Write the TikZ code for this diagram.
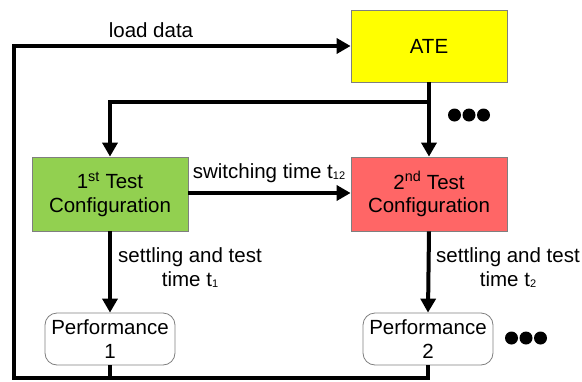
\documentclass[tikz,border=0pt]{standalone}
\usepackage{fontspec}
\setmainfont{Liberation Sans}
\usetikzlibrary{arrows.meta}
\definecolor{ateyellow}{HTML}{FFFF00}
\definecolor{cfggreen}{HTML}{92D050}
\definecolor{cfgred}{HTML}{FF6666}
\definecolor{bordergray}{HTML}{7F7F7F}
\newcommand{\lowsub}[1]{\raisebox{-1.5pt}{\fontsize{11}{11}\selectfont #1}}
\begin{document}
\begin{tikzpicture}[x=1pt,y=-1pt,
  font=\fontsize{20.5}{23.5}\selectfont,
  box/.style={draw=bordergray, line width=0.8pt, minimum width=156pt, align=center, inner sep=0pt},
  perfbox/.style={draw=bordergray, line width=0.8pt, rounded corners=12pt, minimum width=130pt, minimum height=52pt, align=center, inner sep=0pt},
  conn/.style={line width=4pt},
  arr/.style={conn, -{Triangle[length=14pt,width=15pt]}},
  lbl/.style={align=center, inner sep=0pt},
  dotmark/.style={circle, fill=black, minimum size=13pt, inner sep=0pt}
]
\useasboundingbox (0,0) rectangle (582,381);
% nodes
\node[box, fill=ateyellow, minimum height=72pt] (ATE) at (429,46) {ATE};
\node[box, fill=cfggreen, minimum height=74pt] (T1) at (110,194) {1\textsuperscript{st} Test\\Configuration};
\node[box, fill=cfgred, minimum height=74pt] (T2) at (429,194) {2\textsuperscript{nd} Test\\Configuration};
\node[perfbox] (P1) at (110,339) {Performance\\1};
\node[perfbox] (P2) at (428,339) {Performance\\2};
% helper coordinates
\coordinate (br) at (429,102);
\coordinate (bl) at (14,378);
% connectors
\draw[arr] (ATE.south) -- (T2.north);
\draw[arr] (br) -| (T1.north);
\draw[arr] (T1.east |- 0,193) -- (T2.west |- 0,193);
\draw[arr] (T1.south) -- (P1.north);
\draw[arr] (T2.south) -- (P2.north);
\draw[arr] (P2.south) |- (bl) |- (ATE.west);
\draw[conn] (P1.south) -- (P1.south |- bl);
% labels
\node[lbl] (ld) at (151,30) {load data};
\node[lbl] (sw) at (269,173) {switching time t\lowsub{12}};
\node[lbl] (s1) at (190,268) {settling and test\\time t\lowsub{1}};
\node[lbl] (s2) at (508,268) {settling and test\\time t\lowsub{2}};
% dots
\node[dotmark] (a1) at (454.5,115) {};
\node[dotmark] (a2) at (469,115) {};
\node[dotmark] (a3) at (483.5,115) {};
\node[dotmark] (b1) at (511.5,338) {};
\node[dotmark] (b2) at (526,338) {};
\node[dotmark] (b3) at (540.5,338) {};
\end{tikzpicture}
\end{document}
